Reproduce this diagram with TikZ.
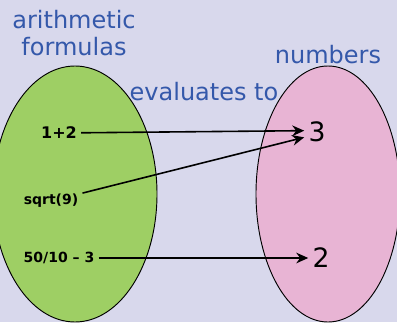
\documentclass[tikz,border=0pt]{standalone}
\usepackage{fontspec}
\setmainfont{DejaVu Sans}
\usetikzlibrary{shapes.geometric,arrows.meta}
\definecolor{bgpurple}{RGB}{216,216,236}
\definecolor{setgreen}{RGB}{158,207,100}
\definecolor{setpink}{RGB}{232,180,212}
\definecolor{labelblue}{RGB}{52,88,170}

\begin{document}
\begin{tikzpicture}[
    x=0.75pt, y=-0.75pt,
    set/.style={draw, ellipse, line width=0.7pt, minimum width=123pt, minimum height=192pt, inner sep=0pt},
    title/.style={text=labelblue, font=\fontsize{18}{20}\selectfont, align=center, inner sep=0pt},
    formula/.style={font=\bfseries\fontsize{10.5}{12}\selectfont, inner sep=3pt},
    value/.style={font=\fontsize{20}{22}\selectfont, inner sep=3pt},
    arr/.style={-{Stealth[length=9pt, width=8pt]}, line width=1.2pt}
]
\useasboundingbox (0,0) rectangle (397,322);
\fill[bgpurple] (0,0) rectangle (397,322);
\clip (0,0) rectangle (397,322);

% the two sets
\node[set, fill=setgreen] (formulaset) at (75,194) {};
\node[set, fill=setpink, minimum width=108pt] (numberset) at (328,194) {};

% titles
\node[title] (formulatitle) at (74,33) {arithmetic\\formulas};
\node[title] (numbertitle) at (328,55) {numbers};
\node[title] (evaluates) at (204,92) {evaluates to};

% formulas
\node[formula, font=\bfseries\fontsize{12}{14}\selectfont] (onetwo) at (59,133) {1+2};
\node[formula] (sqrtnine) at (51,201) {sqrt(9)};
\node[formula] (fifty) at (59,258) {50/10 – 3};

% values
\node[value] (three) at (317,132) {3};
\node[value] (two) at (321,258) {2};

\draw[arr] (onetwo) -- ([yshift=1pt]three.west);
\draw[arr] (sqrtnine) -- ([yshift=-4pt]three.west);
\draw[arr] (fifty) -- (two);
\end{tikzpicture}
\end{document}
